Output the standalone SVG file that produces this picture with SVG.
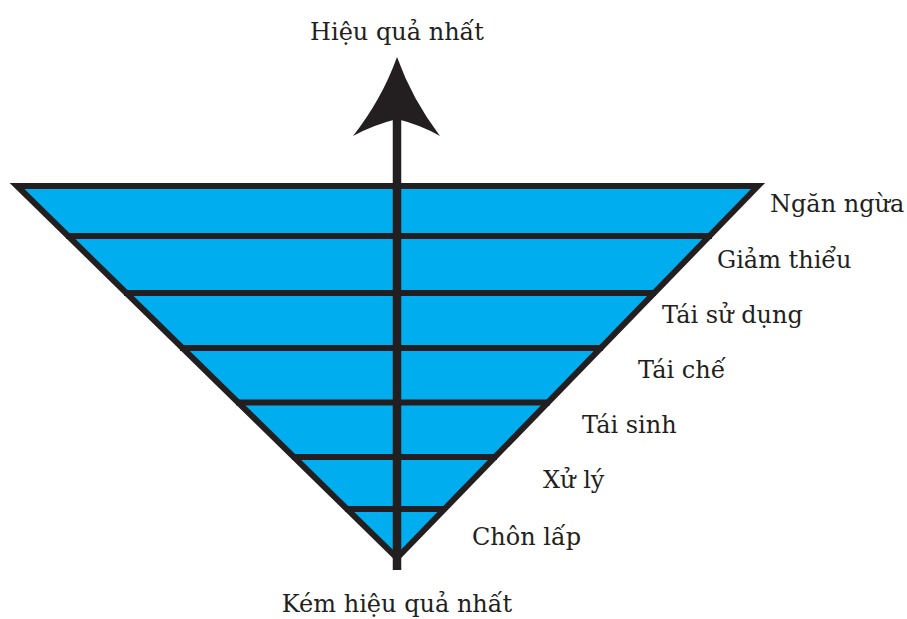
<svg xmlns="http://www.w3.org/2000/svg" width="907" height="619" viewBox="0 0 907 619">
<style>
text{font-family:'DejaVu Serif',serif;font-size:24px;fill:#231f20}
.ln{stroke:#231f20;stroke-width:6;fill:none}
</style>
<rect width="907" height="619" fill="#fff"/>
<g id="pyramid">
<polygon points="17,186 758,186 397,558" fill="#00aeef"/>
</g>
<g id="levels" class="ln">
<line x1="66" y1="236" x2="712" y2="236"/>
<line x1="124" y1="293" x2="656" y2="293"/>
<line x1="180" y1="348" x2="603" y2="348"/>
<line x1="236" y1="402.5" x2="550" y2="402.5"/>
<line x1="292" y1="457" x2="497" y2="457"/>
<line x1="345" y1="509" x2="446" y2="509"/>
</g>
<g id="outline">
<polygon points="17,186 758,186 397,558" class="ln" stroke-linejoin="miter" stroke-miterlimit="10"/>
</g>
<g id="connectors">
<line x1="397" y1="118" x2="397" y2="570" stroke="#231f20" stroke-width="8.5"/>
<path d="M397,57 Q382,99 353,136 Q373,125 397,119 Q421,125 440,136 Q412,99 397,57 Z" fill="#231f20"/>
</g>
<g id="labels">
<text x="397" y="40" text-anchor="middle">Hiệu quả nhất</text>
<text x="397" y="612" text-anchor="middle">Kém hiệu quả nhất</text>
<text x="770" y="212">Ngăn ngừa</text>
<text x="717" y="268">Giảm thiểu</text>
<text x="662" y="323">Tái sử dụng</text>
<text x="638" y="378">Tái chế</text>
<text x="582" y="433">Tái sinh</text>
<text x="543" y="488">Xử lý</text>
<text x="472" y="545">Chôn lấp</text>
</g>
</svg>
